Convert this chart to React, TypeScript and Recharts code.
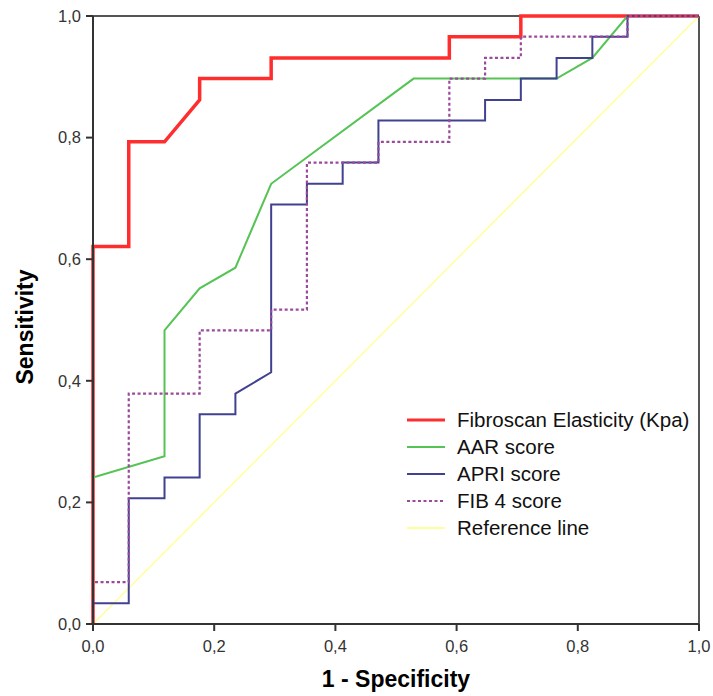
import React from "react";
import { LineChart, Line, XAxis, YAxis, Legend, Label, ReferenceLine } from "recharts";

// ROC curve coordinates (1 - specificity, sensitivity)
const fibroscanFpr = [0, 0, 0.059, 0.059, 0.118, 0.176, 0.176, 0.294, 0.294, 0.588, 0.588, 0.706, 0.706, 1];
const fibroscanTpr = [0, 0.621, 0.621, 0.793, 0.793, 0.862, 0.897, 0.897, 0.931, 0.931, 0.966, 0.966, 1, 1];

const aarFpr = [0, 0, 0.118, 0.118, 0.176, 0.235, 0.294, 0.529, 0.765, 0.824, 0.882, 1];
const aarTpr = [0, 0.241, 0.276, 0.483, 0.552, 0.586, 0.724, 0.897, 0.897, 0.931, 1, 1];

const apriFpr = [0, 0, 0.059, 0.059, 0.118, 0.118, 0.176, 0.176, 0.235, 0.235, 0.294, 0.294, 0.353, 0.353, 0.412, 0.412, 0.471, 0.471, 0.647, 0.647, 0.706, 0.706, 0.765, 0.765, 0.824, 0.824, 0.882, 0.882, 1];
const apriTpr = [0, 0.034, 0.034, 0.207, 0.207, 0.241, 0.241, 0.345, 0.345, 0.379, 0.414, 0.69, 0.69, 0.724, 0.724, 0.759, 0.759, 0.828, 0.828, 0.862, 0.862, 0.897, 0.897, 0.931, 0.931, 0.966, 0.966, 1, 1];

const fib4Fpr = [0, 0, 0.059, 0.059, 0.176, 0.176, 0.294, 0.294, 0.353, 0.353, 0.471, 0.471, 0.588, 0.588, 0.647, 0.647, 0.706, 0.706, 0.882, 0.882, 1];
const fib4Tpr = [0, 0.069, 0.069, 0.379, 0.379, 0.483, 0.483, 0.517, 0.517, 0.759, 0.759, 0.793, 0.793, 0.897, 0.897, 0.931, 0.931, 0.966, 0.966, 1, 1];

const refFpr = [0, 1];
const refTpr = [0, 1];

const axisTicks = [0, 0.2, 0.4, 0.6, 0.8, 1.0];

const zip = (xs: number[], ys: number[]) => xs.map((x, i) => ({ x, y: ys[i] }));

const FONT = '"Liberation Sans", Arial, sans-serif';

const series = [
  { name: "Fibroscan Elasticity (Kpa)", data: zip(fibroscanFpr, fibroscanTpr), color: "#FF2E2E", width: 3.5, dash: undefined as string | undefined },
  { name: "AAR score", data: zip(aarFpr, aarTpr), color: "#55C455", width: 2, dash: undefined },
  { name: "APRI score", data: zip(apriFpr, apriTpr), color: "#414191", width: 2, dash: undefined },
  { name: "FIB 4 score", data: zip(fib4Fpr, fib4Tpr), color: "#9A4A9A", width: 2.2, dash: "3 2.5" },
  { name: "Reference line", data: zip(refFpr, refTpr), color: "#FFFF9A", width: 1.5, dash: undefined },
];

const drawOrder = [4, 0, 1, 2, 3];

const fmt = (v: number) => v.toFixed(1).replace(".", ",");

const renderLegend = () => (
  <div style={{ fontFamily: FONT, fontSize: 20.5, color: "#111" }}>
    {series.map((s) => (
      <div key={s.name} style={{ display: "flex", alignItems: "center", height: 27, whiteSpace: "nowrap" }}>
        <svg width={42} height={10} style={{ display: "block" }}>
          <line x1={2} x2={40} y1={5} y2={5} stroke={s.color} strokeWidth={s.name.startsWith("Fibro") ? 3 : 2.2} strokeDasharray={s.dash} />
        </svg>
        <span style={{ marginLeft: 10 }}>{s.name}</span>
      </div>
    ))}
  </div>
);

export default function App() {
  return (
    <div style={{ position: "absolute", left: 0, top: 0, background: "#fff", fontFamily: FONT }}>
      <LineChart width={713} height={696} margin={{ top: 16, right: 14, bottom: 0, left: 0 }}>
        <XAxis
          dataKey="x"
          type="number"
          domain={[0, 1]}
          ticks={axisTicks}
          tickFormatter={fmt}
          height={72}
          tickSize={7}
          tickMargin={9}
          axisLine={{ stroke: "#333", strokeWidth: 2 }}
          tickLine={{ stroke: "#333", strokeWidth: 2 }}
          tick={{ fill: "#333", fontSize: 16.5, fontFamily: FONT }}
          allowDuplicatedCategory={false}
        >
          <Label
            content={() => (
              <text x={396} y={687} textAnchor="middle" fontFamily={FONT} fontWeight="bold" fontSize={23} fill="#000">
                1 - Specificity
              </text>
            )}
          />
        </XAxis>
        <YAxis
          dataKey="y"
          type="number"
          domain={[0, 1]}
          ticks={axisTicks}
          tickFormatter={fmt}
          width={93}
          tickSize={7}
          tickMargin={5}
          axisLine={{ stroke: "#333", strokeWidth: 2 }}
          tickLine={{ stroke: "#333", strokeWidth: 2 }}
          tick={{ fill: "#333", fontSize: 16.5, fontFamily: FONT }}
        >
          <Label
            content={() => (
              <text
                x={33}
                y={327}
                transform="rotate(-90 33 327)"
                textAnchor="middle"
                fontFamily={FONT}
                fontWeight="bold"
                fontSize={23}
                fill="#000"
              >
                Sensitivity
              </text>
            )}
          />
        </YAxis>
        <ReferenceLine y={1} stroke="#555" strokeWidth={2} ifOverflow="extendDomain" />
        <ReferenceLine x={1} stroke="#555" strokeWidth={2} ifOverflow="extendDomain" />
        {drawOrder.map((i) => {
          const s = series[i];
          return (
            <Line
              key={s.name}
              name={s.name}
              data={s.data}
              dataKey="y"
              type="linear"
              stroke={s.color}
              strokeWidth={s.width}
              strokeDasharray={s.dash}
              dot={false}
              activeDot={false}
              isAnimationActive={false}
              strokeLinejoin="miter"
            />
          );
        })}
        <Legend
          layout="horizontal"
          verticalAlign="middle"
          align="center"
          content={renderLegend}
          wrapperStyle={{ position: "absolute", left: 405, top: 406, width: 300, height: 135 }}
        />
      </LineChart>
    </div>
  );
}
